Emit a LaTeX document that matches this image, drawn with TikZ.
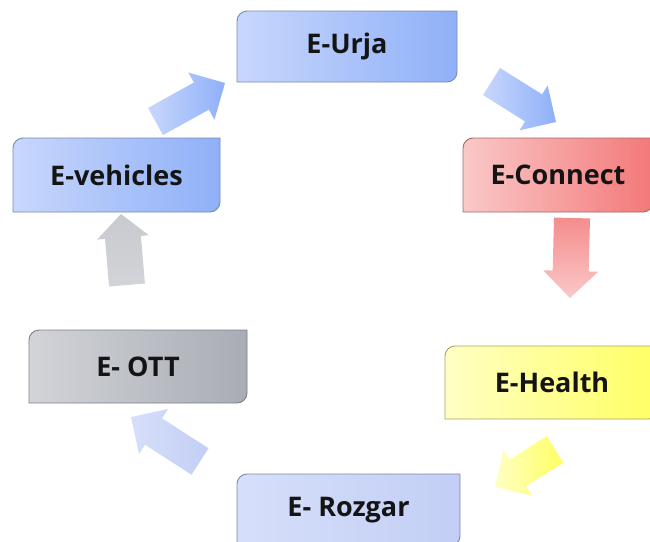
\documentclass[tikz,border=0pt]{standalone}
\usepackage{fontspec}
\setmainfont{Open Sans}
\usetikzlibrary{calc}
\definecolor{blueL}{HTML}{C8D7FC}
\definecolor{blueR}{HTML}{8FB0F8}
\definecolor{blueB}{HTML}{7A8AAA}
\definecolor{lavL}{HTML}{D6DFFA}
\definecolor{lavR}{HTML}{C2CEF5}
\definecolor{grayL}{HTML}{D2D4D8}
\definecolor{grayR}{HTML}{A8ACB4}
\definecolor{grayB}{HTML}{7D8088}
\definecolor{redL}{HTML}{FAC8C8}
\definecolor{redR}{HTML}{F37878}
\definecolor{redB}{HTML}{9E6A6A}
\definecolor{yelL}{HTML}{FFFFC4}
\definecolor{yelR}{HTML}{FFFF62}
\definecolor{yelB}{HTML}{A8A46A}
\tikzset{
  lbl/.style={font=\bfseries\fontsize{27}{32}\selectfont, text=black!92, inner sep=0pt},
  boxline/.style={line width=0.9pt},
}
% #1 name, #2 x1, #3 y1, #4 x2, #5 y2, #6 left colour, #7 right colour, #8 border, #9 text
\newcommand\ebox[9]{%
  \shadedraw[boxline,left color=#6,right color=#7,draw=#8]
    (#2,#5) -- (#2,#3+10) .. controls (#2,#3+4.5) and (#2+4.5,#3) .. (#2+10,#3)
    -- (#4,#3) -- (#4,#5-10) .. controls (#4,#5-4.5) and (#4-4.5,#5) .. (#4-10,#5) -- cycle;
  \node[lbl] (#1) at ({(#2+#4)/2},{(#3+#5)/2}) {#9};}
% #1 tail, #2 tip, #3 half shaft, #4 half head, #5 head length, #6 shading
\newcommand\barrow[6]{%
  \coordinate (T) at #1; \coordinate (P) at #2;
  \coordinate (H) at ($(P)!#5!(T)$);
  \shade[#6] ($(T)!#3!90:(P)$) -- ($(H)!#3!90:(P)$) -- ($(H)!#4!90:(P)$) -- (P)
    -- ($(H)!#4!-90:(P)$) -- ($(H)!#3!-90:(P)$) -- ($(T)!#3!-90:(P)$) -- cycle;}
\begin{document}
\begin{tikzpicture}[x=1pt,y=-1pt]
\useasboundingbox (0,0) rectangle (650,541);
\clip (0,0) rectangle (650,541);
\ebox{urja}{237}{11}{457}{82}{blueL}{blueR}{blueB}{E-Urja}
\ebox{connect}{463}{138}{653}{212}{redL}{redR}{redB}{E-Connect}
\ebox{vehicles}{13}{138}{220}{212}{blueL}{blueR}{blueB}{E-vehicles}
\ebox{ott}{29}{330}{247}{403}{grayL}{grayR}{grayB}{E- OTT}
\ebox{health}{445}{346}{659}{419}{yelL}{yelR}{yelB}{E-Health}
\ebox{rozgar}{237}{474}{460}{546}{lavL}{lavR}{blueB}{E- Rozgar}
% arrows
\barrow{(155.5,121.5)}{(225,83)}{15.5pt}{27pt}{27pt}{left color=blueL,right color=blueR}
\barrow{(491.5,81.5)}{(556,122)}{16pt}{26.5pt}{26.5pt}{left color=blueL,right color=blueR}
\barrow{(572,218)}{(570,298)}{18pt}{27.5pt}{27pt}{top color=redR!85,bottom color=redL}
\barrow{(555,449.5)}{(495,487)}{15.7pt}{26.8pt}{26.8pt}{left color=yelL,right color=yelR}
\barrow{(200,461.5)}{(131,417)}{15.7pt}{26.8pt}{26.8pt}{left color=lavL,right color=lavR}
\barrow{(127,285)}{(121,214)}{18pt}{26pt}{23.5pt}{top color=grayL!75!grayR,bottom color=grayL}
\end{tikzpicture}
\end{document}
